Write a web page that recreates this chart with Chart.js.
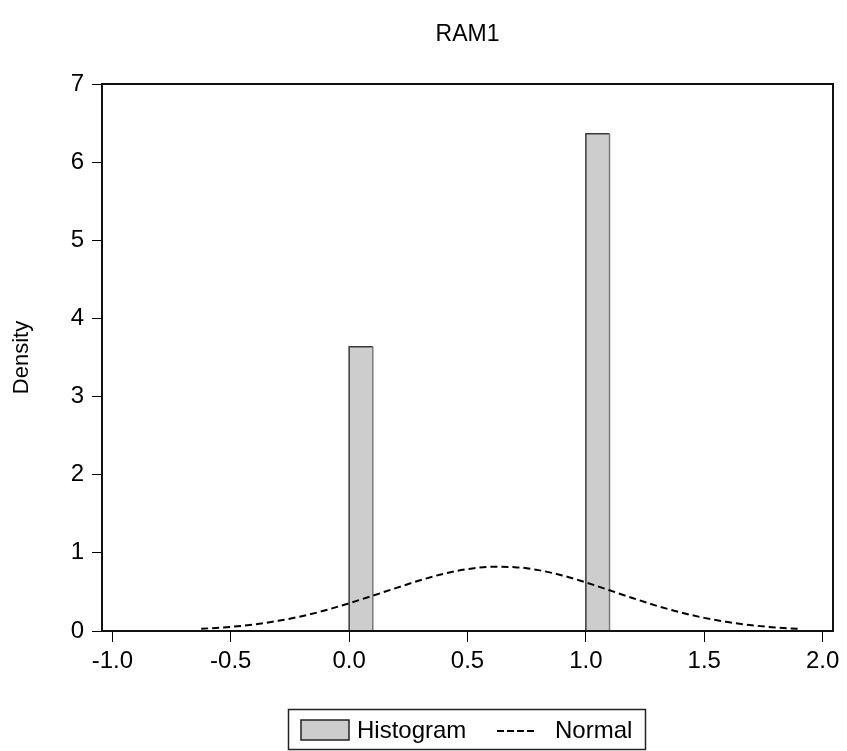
<!DOCTYPE html>
<html>
<head>
<meta charset="utf-8">
<script src="https://cdn.jsdelivr.net/npm/chart.js@4.4.0/dist/chart.umd.min.js"></script>
<style>
  html, body { margin: 0; padding: 0; background: #fff; }
</style>
</head>
<body>
<canvas id="chart" width="847" height="751"></canvas>
<script>
// histogram bins (density scale)
const binLeft = [0.0, 1.0];
const binRight = [0.1, 1.1];
const binDensity = [3.636, 6.364];

// fitted normal density
const normalX = [-0.625, -0.5, -0.4, -0.3, -0.2, -0.1, 0.0, 0.1, 0.2, 0.3, 0.4, 0.5, 0.6,
                 0.7, 0.8, 0.9, 1.0, 1.1, 1.2, 1.3, 1.4, 1.5, 1.6, 1.7, 1.8, 1.897];
const normalY = [0.028, 0.053, 0.085, 0.130, 0.189, 0.265, 0.355, 0.452, 0.552, 0.649, 0.733, 0.792, 0.822,
                 0.817, 0.779, 0.711, 0.622, 0.521, 0.419, 0.322, 0.238, 0.168, 0.114, 0.074, 0.046, 0.028];

const xTicks = [-1.0, -0.5, 0.0, 0.5, 1.0, 1.5, 2.0];
const yTicks = [0, 1, 2, 3, 4, 5, 6, 7];

const FONT = "'Liberation Sans', Arial, sans-serif";

const histogramBars = {
  id: 'histogramBars',
  beforeDatasetsDraw(chart) {
    const { ctx, scales: { x, y } } = chart;
    ctx.save();
    binLeft.forEach((lo, i) => {
      const x0 = x.getPixelForValue(lo);
      const x1 = x.getPixelForValue(binRight[i]);
      const y0 = y.getPixelForValue(0);
      const y1 = y.getPixelForValue(binDensity[i]);
      ctx.fillStyle = '#cdcdcd';
      ctx.fillRect(x0, y1, x1 - x0, y0 - y1);
      ctx.lineWidth = 1.5;
      ctx.strokeStyle = '#3a3a3a';
      ctx.beginPath();
      ctx.moveTo(x0, y0);
      ctx.lineTo(x0, y1);
      ctx.lineTo(x1, y1);
      ctx.stroke();
      ctx.strokeStyle = '#7a7a7a';
      ctx.beginPath();
      ctx.moveTo(x1, y1);
      ctx.lineTo(x1, y0);
      ctx.stroke();
    });
    ctx.restore();
  }
};

// box around the plot, title on top, legend underneath
const frameAndLegend = {
  id: 'frameAndLegend',
  afterDraw(chart) {
    const { ctx, chartArea: a } = chart;
    ctx.save();
    ctx.strokeStyle = '#111';
    ctx.lineWidth = 2;
    ctx.strokeRect(a.left, a.top, a.right - a.left, a.bottom - a.top);

    ctx.fillStyle = '#000';
    ctx.font = '23px ' + FONT;
    ctx.textAlign = 'center';
    ctx.textBaseline = 'middle';
    ctx.fillText('RAM1', (a.left + a.right) / 2, 35);

    // legend
    ctx.lineWidth = 1.5;
    ctx.strokeStyle = '#222';
    ctx.strokeRect(288.5, 709.5, 357, 40);
    ctx.fillStyle = '#cdcdcd';
    ctx.fillRect(301, 720, 48, 20);
    ctx.strokeRect(301, 720, 48, 20);
    ctx.fillStyle = '#000';
    ctx.font = '24px ' + FONT;
    ctx.textAlign = 'left';
    ctx.fillText('Histogram', 357, 731);
    ctx.setLineDash([7, 3]);
    ctx.lineWidth = 2;
    ctx.strokeStyle = '#000';
    ctx.beginPath();
    ctx.moveTo(497, 731);
    ctx.lineTo(534, 731);
    ctx.stroke();
    ctx.setLineDash([]);
    ctx.fillText('Normal', 555, 731);
    ctx.restore();
  }
};

new Chart(document.getElementById('chart'), {
  type: 'scatter',
  data: {
    datasets: [{
      label: 'Normal',
      data: normalX.map((v, i) => ({ x: v, y: normalY[i] })),
      showLine: true,
      borderColor: '#000',
      borderWidth: 2,
      borderDash: [7, 4],
      pointRadius: 0,
      cubicInterpolationMode: 'monotone',
      fill: false
    }]
  },
  options: {
    responsive: false,
    animation: false,
    layout: { padding: { top: 84, left: 0, right: 14, bottom: 80 } },
    plugins: {
      legend: { display: false },
      tooltip: { enabled: false }
    },
    scales: {
      x: {
        type: 'linear',
        min: -1.044,
        max: 2.044,
        afterBuildTicks: (scale) => { scale.ticks = xTicks.map(v => ({ value: v })); },
        afterFit: (scale) => {
          scale.height = 40;
          scale.paddingLeft = 0;
          scale.paddingRight = 0;
        },
        border: { display: false },
        grid: { drawOnChartArea: false, tickLength: 11, color: '#000', lineWidth: 1 },
        ticks: {
          padding: 5,
          color: '#000',
          font: { family: FONT, size: 24 },
          maxRotation: 0,
          callback: (v) => Number(v).toFixed(1)
        }
      },
      y: {
        min: 0,
        max: 7,
        afterBuildTicks: (scale) => { scale.ticks = yTicks.map(v => ({ value: v })); },
        afterFit: (scale) => {
          scale.width = 102;
          scale.paddingTop = 0;
          scale.paddingBottom = 0;
        },
        border: { display: false },
        grid: { drawOnChartArea: false, tickLength: 10, color: '#000', lineWidth: 1 },
        ticks: {
          padding: 8,
          color: '#000',
          font: { family: FONT, size: 24 }
        },
        title: {
          display: true,
          text: 'Density',
          color: '#000',
          font: { family: FONT, size: 22 },
          padding: { top: 9, bottom: 0 }
        }
      }
    }
  },
  plugins: [histogramBars, frameAndLegend]
});
</script>
</body>
</html>
